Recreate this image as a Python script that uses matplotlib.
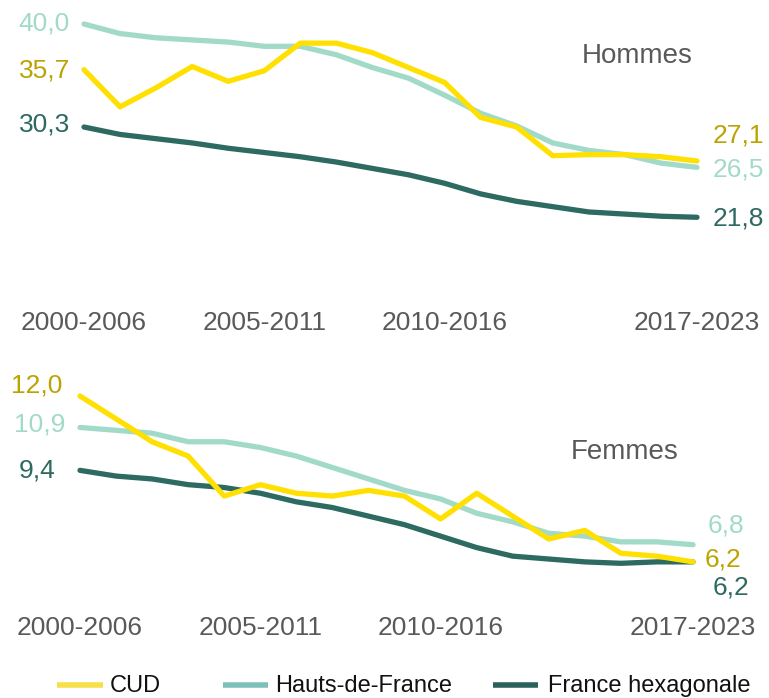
import matplotlib
matplotlib.use('Agg')
import matplotlib.pyplot as plt
from matplotlib.lines import Line2D

plt.rcParams['font.family'] = ['Liberation Sans', 'DejaVu Sans']

# periodes glissantes de 7 ans
periods = ['2000-2006', '2001-2007', '2002-2008', '2003-2009', '2004-2010', '2005-2011',
           '2006-2012', '2007-2013', '2008-2014', '2009-2015', '2010-2016', '2011-2017',
           '2012-2018', '2013-2019', '2014-2020', '2015-2021', '2016-2022', '2017-2023']
tick_idx = [0, 5, 10, 17]

# Hommes
cud_h = [35.7, 32.2, 34.0, 36.0, 34.6, 35.6, 38.2, 38.2, 37.3, 35.9, 34.5, 31.2, 30.3, 27.6, 27.7, 27.7, 27.5, 27.1]
hdf_h = [40.0, 39.1, 38.7, 38.5, 38.3, 37.9, 37.9, 37.1, 35.9, 34.9, 33.3, 31.6, 30.4, 28.8, 28.1, 27.7, 26.9, 26.5]
fh_h = [30.3, 29.6, 29.2, 28.8, 28.3, 27.9, 27.5, 27.0, 26.4, 25.8, 25.0, 24.0, 23.3, 22.8, 22.3, 22.1, 21.9, 21.8]

# Femmes
cud_f = [12.0, 11.2, 10.4, 9.9, 8.5, 8.9, 8.6, 8.5, 8.7, 8.5, 7.7, 8.6, 7.8, 7.0, 7.3, 6.5, 6.4, 6.2]
hdf_f = [10.9, 10.8, 10.7, 10.4, 10.4, 10.2, 9.9, 9.5, 9.1, 8.7, 8.4, 7.9, 7.6, 7.2, 7.1, 6.9, 6.9, 6.8]
fh_f = [9.4, 9.2, 9.1, 8.9, 8.8, 8.6, 8.3, 8.1, 7.8, 7.5, 7.1, 6.7, 6.4, 6.3, 6.2, 6.15, 6.2, 6.2]

c_cud = '#FFE000'
c_hdf = '#A2DAC9'
c_fh = '#2D6A61'
lab_cud = '#BBA400'
grey = '#595959'

W, H = 769, 698
fig = plt.figure(figsize=(W / 100, H / 100), dpi=100)


def add_px_axes(left, top, right, bottom):
    return fig.add_axes([left / W, 1 - bottom / H, (right - left) / W, (bottom - top) / H])


def draw_panel(ax, cud, hdf, fh, ylim, pad, title, title_xy, labels):
    x = list(range(len(periods)))
    for vals, col in [(hdf, c_hdf), (fh, c_fh), (cud, c_cud)]:
        ax.plot(x, vals, color=col, lw=3.8, solid_capstyle='round',
                solid_joinstyle='round', clip_on=False)
    ax.set_xlim(0, len(periods) - 1)
    ax.set_ylim(*ylim)
    ax.set_yticks([])
    ax.set_xticks(tick_idx, [periods[i] for i in tick_idx])
    ax.tick_params(axis='x', length=0, pad=pad, labelsize=19, labelcolor=grey)
    for s in ax.spines.values():
        s.set_visible(False)
    ax.text(title_xy[0], title_xy[1], title, transform=ax.transAxes,
            fontsize=20, color=grey, ha='center', va='center')
    for idx, vals, txt, col, dx, dy in labels:
        ax.annotate(txt, (idx, vals[idx]), xytext=(dx, dy), textcoords='offset pixels',
                    ha='right' if dx < 0 else 'left', va='center',
                    fontsize=19, color=col)


# panneau Hommes
ax1 = add_px_axes(84, 13.4, 697, 300.1)
draw_panel(ax1, cud_h, hdf_h, fh_h, (14, 41), 8, 'Hommes', (0.903, 0.85), [
    (0, hdf_h, '40,0', c_hdf, -14, 1),
    (0, cud_h, '35,7', lab_cud, -14, -1),
    (0, fh_h, '30,3', c_fh, -14, 3),
    (17, cud_h, '27,1', lab_cud, 16, 25),
    (17, hdf_h, '26,5', c_hdf, 16, -2),
    (17, fh_h, '21,8', c_fh, 16, -1),
])

# panneau Femmes
ax2 = add_px_axes(80, 381.7, 693, 596.2)
draw_panel(ax2, cud_f, hdf_f, fh_f, (5, 12.5), 14, 'Femmes', (0.889, 0.67), [
    (0, cud_f, '12,0', lab_cud, -18, 11),
    (0, hdf_f, '10,9', c_hdf, -15, 3),
    (0, fh_f, '9,4', c_fh, -25, 0),
    (17, hdf_f, '6,8', c_hdf, 15, 19),
    (17, cud_f, '6,2', lab_cud, 12, 2),
    (17, fh_f, '6,2', c_fh, 20, -26),
])

# legende
lg = fig.add_axes([0, 0, 1, 1])
lg.set_xlim(0, W)
lg.set_ylim(H, 0)
lg.axis('off')
for x0, x1, tx, txt, col in [(57, 103, 110, 'CUD', '#F7E04A'),
                             (223, 268, 275, 'Hauts-de-France', '#7FBFBA'),
                             (493, 538, 548, 'France hexagonale', '#2B635C')]:
    lg.add_line(Line2D([x0, x1], [685, 685], color=col, lw=4, solid_capstyle='butt'))
    lg.text(tx, 686, txt, fontsize=17, color='#111111', va='center', ha='left')

fig.savefig('out.png', dpi=100)
